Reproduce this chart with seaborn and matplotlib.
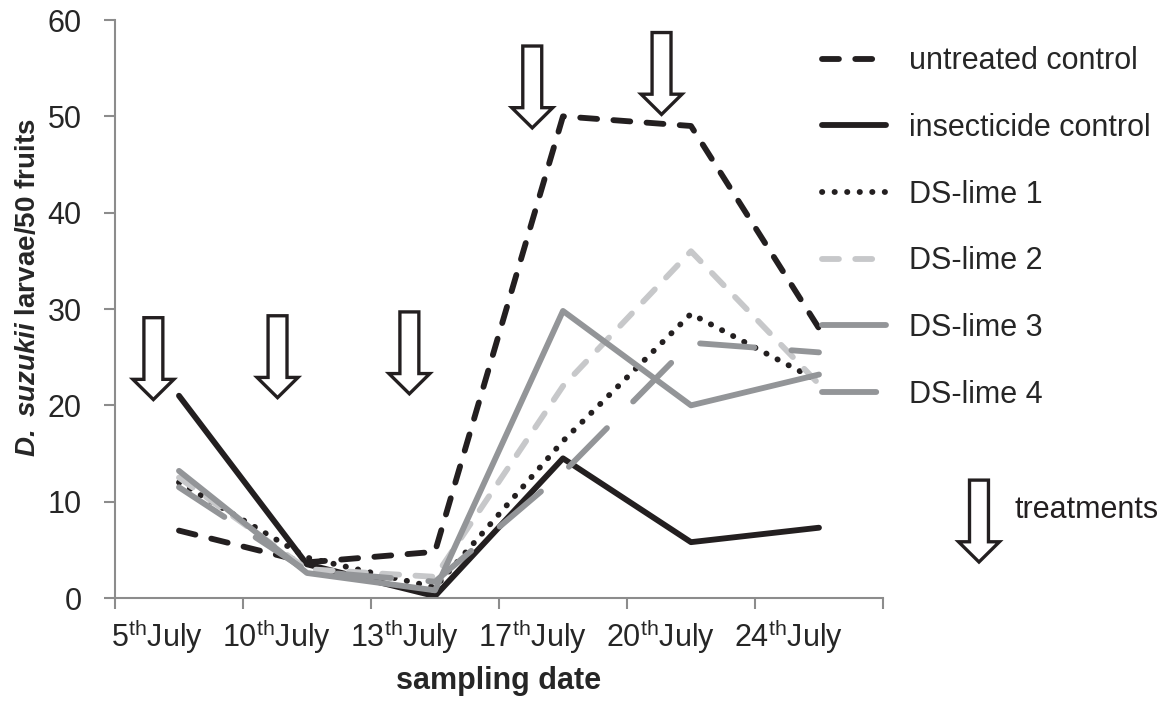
import numpy as np
import pandas as pd
import matplotlib
matplotlib.use("Agg")
import matplotlib.pyplot as plt
from matplotlib.patches import FancyArrow
import seaborn as sns

# sampling dates (categorical axis)
dates = ["5$^{\\mathrm{th}}$July", "10$^{\\mathrm{th}}$July", "13$^{\\mathrm{th}}$July",
         "17$^{\\mathrm{th}}$July", "20$^{\\mathrm{th}}$July", "24$^{\\mathrm{th}}$July"]

# D. suzukii larvae per 50 fruits
untreated = [7.0, 3.7, 4.8, 50.0, 49.0, 28.0]
insecticide = [21.0, 3.5, 0.2, 14.5, 5.8, 7.3]
ds_lime1 = [12.0, 4.2, 1.1, 16.3, 29.5, 22.5]
ds_lime2 = [12.5, 3.0, 2.2, 22.0, 36.0, 22.2]
ds_lime3 = [13.2, 2.6, 0.8, 29.8, 20.0, 23.2]
ds_lime4 = [11.5, 2.8, 1.7, 13.0, 26.5, 25.5]

series_names = ["untreated control", "insecticide control", "DS-lime 1",
                "DS-lime 2", "DS-lime 3", "DS-lime 4"]
series_values = [untreated, insecticide, ds_lime1, ds_lime2, ds_lime3, ds_lime4]

# treatment arrows: (x position between dates, y of the arrow tip)
arrow_x = [-0.2, 0.77, 1.80, 2.76, 3.77]
arrow_tip = [20.6, 20.8, 21.2, 48.8, 50.2]

rows = []
for name, vals in zip(series_names, series_values):
    for i, v in enumerate(vals):
        rows.append({"date": i, "larvae": v, "series": name})
df = pd.DataFrame(rows)

palette = {
    "untreated control": "#231f20",
    "insecticide control": "#231f20",
    "DS-lime 1": "#231f20",
    "DS-lime 2": "#c7c8ca",
    "DS-lime 3": "#939598",
    "DS-lime 4": "#939598",
}
dashes = {
    "untreated control": (2.9, 2.8),
    "insecticide control": "",
    "DS-lime 1": (0.05, 2.1),
    "DS-lime 2": (2.9, 2.8),
    "DS-lime 3": "",
    "DS-lime 4": (9.3, 6.4),
}

sns.set_style("ticks")
plt.rcParams["font.family"] = ["Liberation Sans", "DejaVu Sans"]
plt.rcParams["mathtext.fontset"] = "custom"
plt.rcParams["mathtext.rm"] = "Liberation Sans"
plt.rcParams["mathtext.it"] = "Liberation Sans:italic"
plt.rcParams["mathtext.bf"] = "Liberation Sans:bold"
plt.rcParams["mathtext.bfit"] = "Liberation Sans:italic:bold"

fig = plt.figure(figsize=(11.72, 7.02), dpi=100)
ax = fig.add_axes([0.0981, 0.1481, 0.6553, 0.8234])

sns.lineplot(data=df, x="date", y="larvae", hue="series", style="series",
             hue_order=series_names, style_order=series_names,
             palette=palette, dashes=dashes, linewidth=4.2, errorbar=None,
             dash_capstyle="round", solid_capstyle="round", ax=ax)

handles, labels = ax.get_legend_handles_labels()
ax.get_legend().remove()
for h in handles:
    h.set_linewidth(4.2)
    h.set_dash_capstyle("round")
    h.set_solid_capstyle("round")

ax.set_xlim(-0.5, 5.5)
ax.set_ylim(0, 60)
ax.set_yticks(np.arange(0, 61, 10))
ax.set_xticks(np.arange(-0.5, 5.6, 1))
ax.set_xticklabels([])
ax.set_xticks(np.arange(len(dates)) + 0.19, minor=True)
ax.set_xticklabels(dates, minor=True, ha="right")
ax.tick_params(axis="x", which="minor", length=0, pad=14, labelsize=22)
ax.tick_params(axis="x", which="major", length=8, width=1.5, color="#8c8c8c", direction="out")
ax.tick_params(axis="y", length=8, width=1.5, color="#8c8c8c", direction="out", pad=16, labelsize=22)
ax.set_xlabel("")
ax.set_ylabel("")
for s in ["top", "right"]:
    ax.spines[s].set_visible(False)
for s in ["left", "bottom"]:
    ax.spines[s].set_color("#8c8c8c")
    ax.spines[s].set_linewidth(1.5)

# hollow treatment arrows
for x, tip in zip(arrow_x, arrow_tip):
    ax.add_patch(FancyArrow(x, tip + 8.5, 0, -8.5, width=0.148, head_width=0.32,
                            head_length=2.1, length_includes_head=True,
                            facecolor="white", edgecolor="#231f20", linewidth=2.4,
                            joinstyle="miter", zorder=5))
ax.add_patch(FancyArrow(6.25, 3.74 + 8.5, 0, -8.5, width=0.148, head_width=0.32,
                        head_length=2.1, length_includes_head=True,
                        facecolor="white", edgecolor="#231f20", linewidth=2.4,
                        joinstyle="miter", clip_on=False, zorder=5))
fig.text(1015 / 1172, 1 - 510 / 702, "treatments", fontsize=22, va="center", ha="left",
         color="#231f20")

fig.legend(handles, labels, loc="upper left", bbox_to_anchor=(0.701, 0.934),
           frameon=False, fontsize=22, handlelength=2.1, handletextpad=0.75,
           labelspacing=1.2, borderpad=0, borderaxespad=0)

fig.text(499 / 1172, 1 - 681 / 702, "sampling date", fontsize=22, fontweight="bold",
         ha="center", va="center")
fig.text(28 / 1172, 1 - 288 / 702, r"$\mathbfit{D.\ suzukii}$ larvae/50 fruits",
         fontsize=20, fontweight="bold", rotation=90, ha="center", va="center")

plt.savefig("out.png", dpi=100)
